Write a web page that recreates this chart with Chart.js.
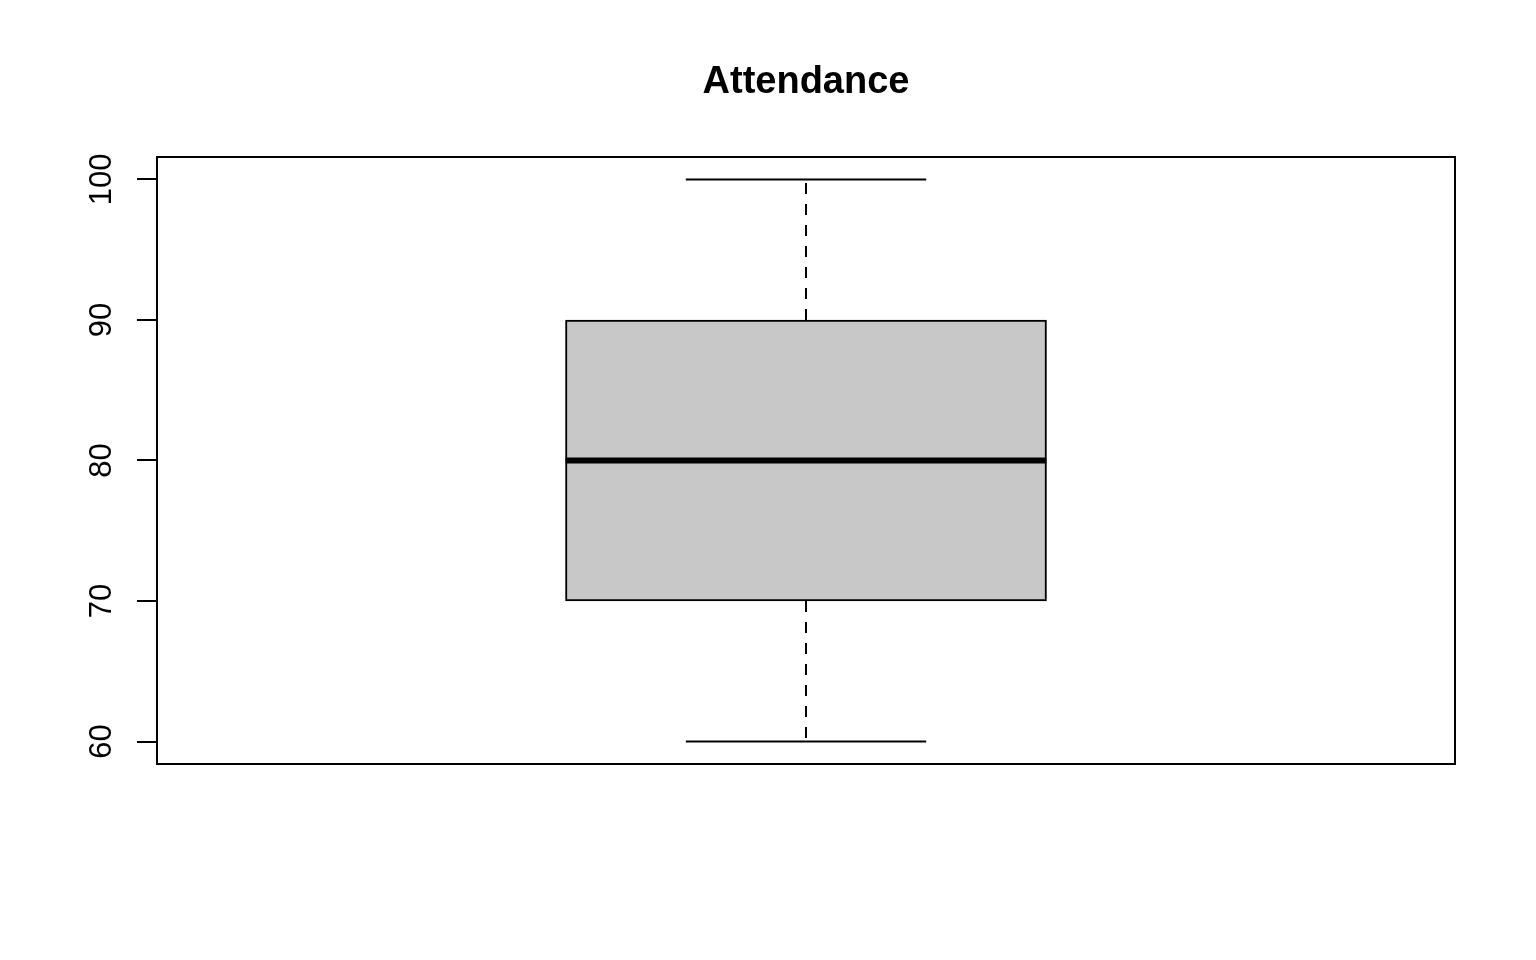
<!DOCTYPE html>
<html>
<head>
<meta charset="utf-8">
<script src="https://cdn.jsdelivr.net/npm/chart.js@4/dist/chart.umd.min.js"></script>
<style>
  html, body { margin: 0; padding: 0; background: #fff; }
  #wrap { width: 1536px; height: 960px; position: relative; }
</style>
</head>
<body>
<div id="wrap"><canvas id="boxChart"></canvas></div>
<script>
// summary of the Attendance box
const categories = ['Attendance'];
const whiskerLow = [60];
const lowerQuartile = [70];
const medians = [80];
const upperQuartile = [90];
const whiskerHigh = [100];
const yTicks = [60, 70, 80, 90, 100];

// R-style geometry (in x units)
const BOX_HALF = 0.2;
const STAPLE_HALF = 0.1;
const boxX = 1;

const frame = {
    id: 'frame',
    afterDraw(chart) {
        const { ctx, chartArea: a } = chart;
        ctx.save();
        ctx.strokeStyle = '#000';
        ctx.lineWidth = 2;
        ctx.strokeRect(a.left, a.top, a.right - a.left, a.bottom - a.top);
        ctx.restore();
    }
};

const seg = (x0, y0, x1, y1) => [{ x: x0, y: y0 }, { x: x1, y: y1 }];
const lineDs = (data, extra) => Object.assign({
    type: 'line', data: data, borderColor: '#000', borderWidth: 2,
    pointRadius: 0, fill: false, order: 1
}, extra);

const ctx = document.getElementById('boxChart');
new Chart(ctx, {
    type: 'bar',
    data: {
        datasets: [
            lineDs(seg(boxX - BOX_HALF, medians[0], boxX + BOX_HALF, medians[0]), { borderWidth: 6, borderCapStyle: 'butt' }),
            lineDs(seg(boxX, upperQuartile[0], boxX, whiskerHigh[0]), { borderDash: [11, 10] }),
            lineDs(seg(boxX, lowerQuartile[0], boxX, whiskerLow[0]), { borderDash: [11, 10] }),
            lineDs(seg(boxX - STAPLE_HALF, whiskerHigh[0], boxX + STAPLE_HALF, whiskerHigh[0])),
            lineDs(seg(boxX - STAPLE_HALF, whiskerLow[0], boxX + STAPLE_HALF, whiskerLow[0])),
            {
                label: categories[0],
                data: [{ x: boxX, y: [lowerQuartile[0], upperQuartile[0]] }],
                backgroundColor: '#c8c8c8',
                borderColor: '#000',
                borderWidth: 2,
                borderSkipped: false,
                barThickness: 481,
                order: 2
            }
        ]
    },
    options: {
        responsive: true,
        maintainAspectRatio: false,
        animation: false,
        layout: { padding: { left: 0, right: 81, top: 0, bottom: 196 } },
        plugins: {
            legend: { display: false },
            tooltip: { enabled: false },
            title: {
                display: true,
                text: categories[0],
                color: '#000',
                fullSize: false,
                font: { family: 'Liberation Sans', size: 38, weight: 'bold' },
                padding: { top: 59.7, bottom: 51.7 }
            }
        },
        scales: {
            x: { type: 'linear', min: 0.46, max: 1.54, offset: false, display: false },
            y: {
                min: 58.4,
                max: 101.6,
                afterBuildTicks: (scale) => { scale.ticks = yTicks.map(v => ({ value: v })); },
                afterFit: (scale) => { scale.width = 157; },
                border: { display: true, color: '#000', width: 2 },
                grid: { drawOnChartArea: false, color: '#000', lineWidth: 2, tickLength: 20 },
                ticks: {
                    color: '#000',
                    font: { family: 'Liberation Sans', size: 31 },
                    minRotation: 90,
                    maxRotation: 90,
                    crossAlign: 'center',
                    padding: 9
                }
            }
        }
    },
    plugins: [frame]
});
</script>
</body>
</html>
